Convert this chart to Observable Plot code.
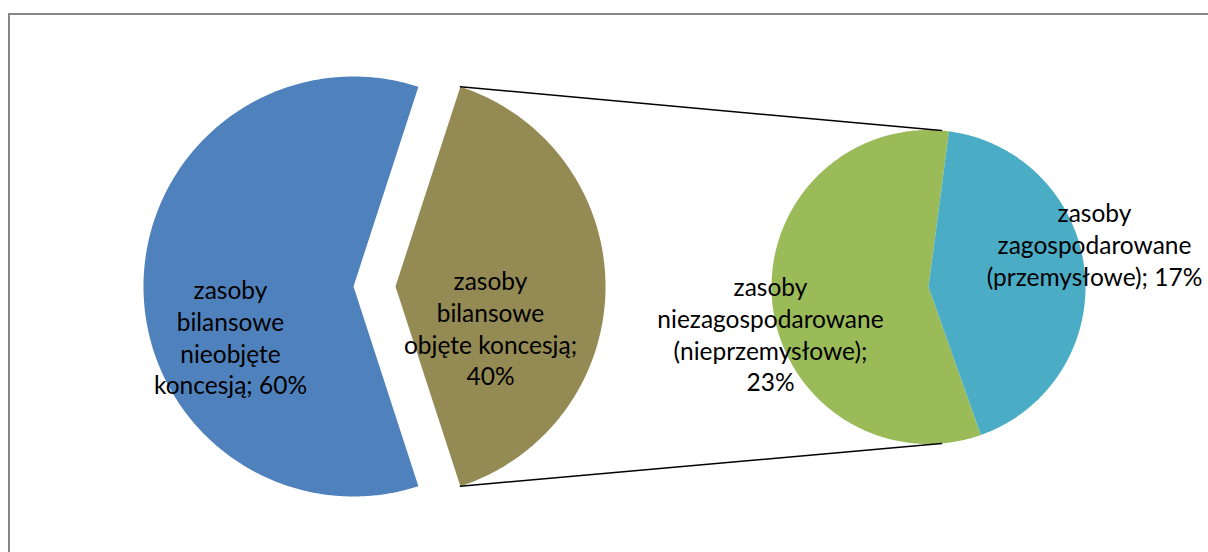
<!DOCTYPE html>
<html>
<head>
<meta charset="utf-8">
<script src="https://cdn.jsdelivr.net/npm/d3@7"></script>
<script src="https://cdn.jsdelivr.net/npm/@observablehq/plot@0.6"></script>
<style>
  html, body { margin: 0; padding: 0; background: #fff; }
  #wrap { position: relative; width: 1208px; height: 552px; overflow: hidden; }
  #frame { position: absolute; left: 8px; top: 13px; width: 1220px; height: 560px;
           border-left: 2px solid #878787; border-top: 2px solid #878787; box-sizing: border-box; }
  #chart { position: absolute; left: 0; top: 0; }
</style>
</head>
<body>
<div id="wrap"><div id="frame"></div><div id="chart"></div></div>
<script>
// ---- data ----
const mainCategories = ["zasoby bilansowe nieobjęte koncesją", "zasoby bilansowe objęte koncesją"];
const mainValues = [60, 40];
const mainLabels = ["zasoby\nbilansowe\nnieobjęte\nkoncesją; 60%", "zasoby\nbilansowe\nobjęte koncesją;\n40%"];
const mainColors = ["#4F81BD", "#948A54"];

const subCategories = ["zasoby niezagospodarowane (nieprzemysłowe)", "zasoby zagospodarowane (przemysłowe)"];
const subValues = [23, 17];
const subLabels = ["zasoby\nniezagospodarowane\n(nieprzemysłowe);\n23%", "zasoby\nzagospodarowane\n(przemysłowe); 17%"];
const subColors = ["#9BBB59", "#4BACC6"];

// ---- layout ----
const W = 1208, H = 552;
const deg = Math.PI / 180;
const mainPie = {cx: 353, cy: 286, r: 210, start: 162 * deg, explode: 42};
const subPie = {cx: 928, cy: 286.5, r: 157, start: 160.5 * deg};
const mainLabelPos = [[230, 336], [490, 327]];
const subLabelPos = [[770, 333], [1094, 243]];

function arcs(cats, vals, cfg, explodeIdx) {
  const pie = d3.pie().sort(null).startAngle(cfg.start).endAngle(cfg.start + 2 * Math.PI);
  return pie(vals).map((a, i) => {
    const mid = (a.startAngle + a.endAngle) / 2;
    const off = i === explodeIdx ? cfg.explode : 0;
    const cx = cfg.cx + off * Math.sin(mid), cy = cfg.cy - off * Math.cos(mid);
    return {cat: cats[i], value: vals[i], start: a.startAngle, end: a.endAngle, cx, cy, r: cfg.r};
  });
}
function polygon(a) {
  const pts = [{cat: a.cat, x: a.cx, y: a.cy}];
  const n = Math.max(2, Math.ceil((a.end - a.start) / (0.5 * deg)));
  for (let k = 0; k <= n; k++) {
    const t = a.start + (a.end - a.start) * k / n;
    pts.push({cat: a.cat, x: a.cx + a.r * Math.sin(t), y: a.cy - a.r * Math.cos(t)});
  }
  pts.push({cat: a.cat, x: a.cx, y: a.cy});
  return pts;
}

const mainArcs = arcs(mainCategories, mainValues, mainPie, 1);
const subArcs = arcs(subCategories, subValues, subPie, -1);
const slicePts = [...mainArcs, ...subArcs].flatMap(polygon);

// connector lines: from exploded slice corners to top/bottom of secondary pie
const ex = mainArcs[1];
const topA = 4.75 * deg, botA = 175.25 * deg;
const connectors = [
  {id: "top", x: ex.cx + ex.r * Math.sin(ex.start), y: ex.cy - ex.r * Math.cos(ex.start)},
  {id: "top", x: subPie.cx + subPie.r * Math.sin(topA), y: subPie.cy - subPie.r * Math.cos(topA)},
  {id: "bot", x: ex.cx + ex.r * Math.sin(ex.end), y: ex.cy - ex.r * Math.cos(ex.end)},
  {id: "bot", x: subPie.cx + subPie.r * Math.sin(botA), y: subPie.cy - subPie.r * Math.cos(botA)}
];

const labelData = [
  ...mainLabels.map((t, i) => ({text: t, x: mainLabelPos[i][0], y: mainLabelPos[i][1]})),
  ...subLabels.map((t, i) => ({text: t, x: subLabelPos[i][0], y: subLabelPos[i][1]}))
];

const chart = Plot.plot({
  width: W, height: H,
  margin: 0,
  x: {type: "identity", axis: null},
  y: {type: "identity", axis: null},
  color: {domain: [...mainCategories, ...subCategories], range: [...mainColors, ...subColors]},
  style: {background: "transparent"},
  marks: [
    Plot.line(slicePts, {x: "x", y: "y", z: "cat", fill: "cat", stroke: "none", curve: "linear"}),
    Plot.line(connectors, {x: "x", y: "y", z: "id", stroke: "#000", strokeWidth: 1.5}),
    Plot.text(labelData, {x: "x", y: "y", text: "text", fill: "#000", fontSize: 24.5,
      lineHeight: 1.3, fontFamily: "Lato", textAnchor: "middle"})
  ]
});
document.getElementById("chart").appendChild(chart);
</script>
</body>
</html>
